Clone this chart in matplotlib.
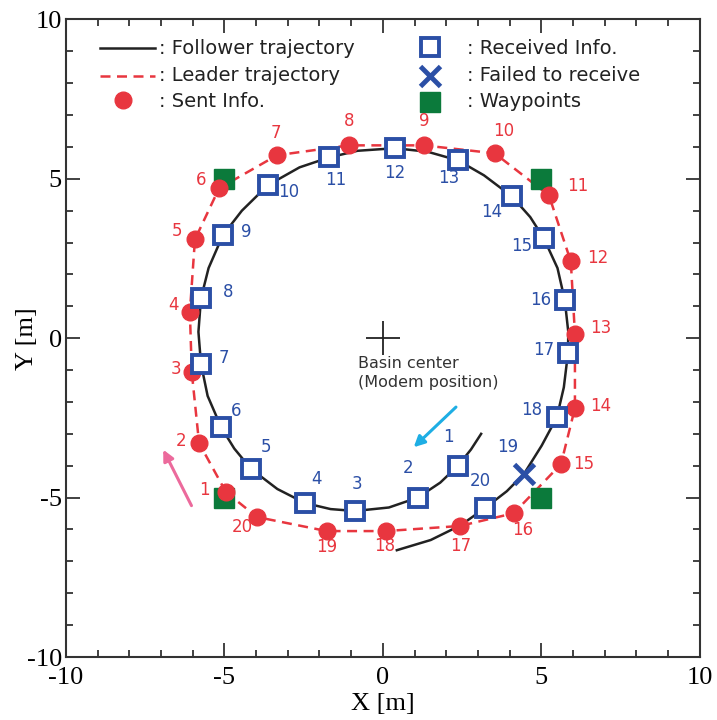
import matplotlib
matplotlib.use("Agg")
import matplotlib.pyplot as plt
from matplotlib.ticker import MultipleLocator

plt.rcParams["axes.unicode_minus"] = False

# Follower trajectory (black solid)
follower_x = [3.10, 2.78, 2.37, 1.81, 1.10, 0.19, -0.88, -1.65, -2.46, -3.33,
              -4.16, -4.69, -5.10, -5.53, -5.74, -5.82, -5.74, -5.50, -5.05, -4.45,
              -3.63, -2.63, -1.70, -0.80, 0.38, 1.41, 2.37, 3.19, 4.07, 4.65,
              5.08, 5.51, 5.74, 5.85, 5.84, 5.71, 5.49, 5.01, 4.45, 3.91,
              3.22, 2.45, 1.51, 0.44]
follower_y = [-3.00, -3.49, -4.00, -4.53, -5.00, -5.31, -5.42, -5.36, -5.17, -4.73,
              -4.10, -3.46, -2.80, -1.81, -0.80, 0.20, 1.25, 2.20, 3.23, 4.00,
              4.80, 5.36, 5.67, 5.88, 5.96, 5.85, 5.58, 5.11, 4.45, 3.80,
              3.13, 2.20, 1.19, 0.20, -0.47, -1.54, -2.48, -3.37, -4.26, -4.80,
              -5.33, -5.87, -6.33, -6.65]

# Sent info (red circles) 1..20 on the leader trajectory
sent_x = [-4.95, -5.80, -6.03, -6.09, -5.93, -5.17, -3.34, -1.07, 1.29, 3.53,
          5.24, 5.93, 6.06, 6.06, 5.62, 4.13, 2.43, 0.09, -1.77, -3.97]
sent_y = [-4.83, -3.29, -1.07, 0.82, 3.10, 4.70, 5.74, 6.05, 6.05, 5.80,
          4.48, 2.41, 0.13, -2.19, -3.95, -5.49, -5.89, -6.05, -6.05, -5.61]
sent_lab_x = [-5.62, -6.37, -6.53, -6.60, -6.50, -5.74, -3.38, -1.07, 1.29, 3.82,
              6.15, 6.78, 6.88, 6.88, 6.34, 4.42, 2.46, 0.06, -1.77, -4.42]
sent_lab_y = [-4.76, -3.23, -0.97, 1.03, 3.35, 4.95, 6.43, 6.80, 6.80, 6.49,
              4.76, 2.51, 0.31, -2.13, -3.95, -6.02, -6.52, -6.52, -6.55, -5.92]

# Received info (blue squares) 1..20, number 19 failed
recv_x = [2.37, 1.10, -0.88, -2.46, -4.16, -5.10, -5.74, -5.74, -5.05, -3.63,
          -1.70, 0.38, 2.37, 4.07, 5.08, 5.74, 5.84, 5.49, 4.45, 3.22]
recv_y = [-4.00, -5.00, -5.42, -5.17, -4.10, -2.80, -0.80, 1.25, 3.23, 4.80,
          5.67, 5.96, 5.58, 4.45, 3.13, 1.19, -0.47, -2.48, -4.26, -5.33]
recv_lab_x = [2.08, 0.79, -0.82, -2.08, -3.69, -4.64, -5.02, -4.89, -4.32, -2.97,
              -1.48, 0.38, 2.08, 3.44, 4.38, 4.98, 5.08, 4.70, 3.94, 3.06]
recv_lab_y = [-3.10, -4.08, -4.58, -4.42, -3.42, -2.29, -0.63, 1.44, 3.32, 4.58,
              4.95, 5.17, 5.02, 3.95, 2.88, 1.19, -0.38, -2.26, -3.42, -4.48]
failed = [19]

# Waypoints (green squares)
wp_x = [-5.0, 5.0, 5.0, -5.0]
wp_y = [5.0, 5.0, -5.0, -5.0]

RED = "#e8363f"
BLUE = "#2b4fa6"
GREEN = "#0b7a3b"

fig = plt.figure(figsize=(7.17, 7.2), dpi=100)
ax = fig.add_axes([0.092, 0.0875, 0.884, 0.8855])

# leader trajectory (closed loop through the sent points)
ax.plot(sent_x + sent_x[:1], sent_y + sent_y[:1], color=RED, lw=1.8,
        dashes=(4, 2.6), zorder=2)
ax.plot(follower_x, follower_y, color="#222222", lw=1.8,
        solid_joinstyle="round", zorder=2)

ax.plot(wp_x, wp_y, "s", color=GREEN, ms=14.5, zorder=3)
ax.plot(sent_x, sent_y, "o", color=RED, ms=12, zorder=4)

ok = [i for i in range(20) if i + 1 not in failed]
ax.plot([recv_x[i] for i in ok], [recv_y[i] for i in ok], "s", ms=13.5,
        mfc="white", mec=BLUE, mew=2.8, zorder=5)
bad = [i for i in range(20) if i + 1 in failed]
ax.plot([recv_x[i] for i in bad], [recv_y[i] for i in bad], "x", ms=15,
        mec=BLUE, mew=3.5, zorder=5)

for i in range(20):
    ax.text(sent_lab_x[i], sent_lab_y[i], str(i + 1), color=RED, fontsize=12,
            ha="center", va="center", zorder=6)
    ax.text(recv_lab_x[i], recv_lab_y[i], str(i + 1), color=BLUE, fontsize=12,
            ha="center", va="center", zorder=6)

# basin center
ax.plot([0], [0], "+", color="#222222", ms=24, mew=1.3, zorder=3)
ax.text(-0.79, -1.1, "Basin center\n(Modem position)", color="#333333",
        fontsize=11.5, ha="left", va="center", linespacing=1.3)

# direction arrows
ax.annotate("", xy=(0.91, -3.48), xytext=(2.37, -2.10),
            arrowprops=dict(arrowstyle="-|>", color="#1eaee4", lw=2.2,
                            mutation_scale=16))
ax.annotate("", xy=(-6.97, -3.42), xytext=(-6.0, -5.33),
            arrowprops=dict(arrowstyle="-|>", color="#ec6a9c", lw=2.2,
                            mutation_scale=16))

# hand made legend
ax.plot([-8.93, -7.19], [9.09, 9.09], color="#222222", lw=1.8)
ax.plot([-8.93, -7.19], [8.24, 8.24], color=RED, lw=1.8, dashes=(4, 2.6))
ax.plot([-8.2], [7.46], "o", color=RED, ms=12)
ax.plot([1.48], [9.12], "s", ms=13.5, mfc="white", mec=BLUE, mew=2.8)
ax.plot([1.48], [8.24], "x", ms=15, mec=BLUE, mew=3.5)
ax.plot([1.48], [7.40], "s", color=GREEN, ms=14.5)
leg_txt = dict(fontsize=14, color="#222222", ha="left", va="center")
ax.text(-7.05, 9.09, ": Follower trajectory", **leg_txt)
ax.text(-7.05, 8.24, ": Leader trajectory", **leg_txt)
ax.text(-7.05, 7.42, ": Sent Info.", **leg_txt)
ax.text(2.65, 9.09, ": Received Info.", **leg_txt)
ax.text(2.65, 8.24, ": Failed to receive", **leg_txt)
ax.text(2.65, 7.42, ": Waypoints", **leg_txt)

ax.set_xlim(-10, 10)
ax.set_ylim(-10, 10)
ax.xaxis.set_major_locator(MultipleLocator(5))
ax.yaxis.set_major_locator(MultipleLocator(5))
ax.xaxis.set_minor_locator(MultipleLocator(1))
ax.yaxis.set_minor_locator(MultipleLocator(1))
ax.tick_params(which="both", direction="in", top=True, right=True,
               color="#333333", width=1.3)
ax.tick_params(which="major", length=10)
ax.tick_params(which="minor", length=5)
for s in ax.spines.values():
    s.set_color("#333333")
    s.set_linewidth(1.5)

serif = ["Liberation Serif", "DejaVu Serif"]
for lab in ax.get_xticklabels() + ax.get_yticklabels():
    lab.set_family(serif)
    lab.set_fontsize(19)
ax.tick_params(axis="x", pad=7)
ax.tick_params(axis="y", pad=3)
ax.set_xlabel("X [m]", family=serif, fontsize=19, va="center")
ax.set_ylabel("Y [m]", family=serif, fontsize=19, va="center")
ax.xaxis.set_label_coords(0.5, -0.073)
ax.yaxis.set_label_coords(-0.062, 0.5)

fig.savefig("out.png", dpi=100)
